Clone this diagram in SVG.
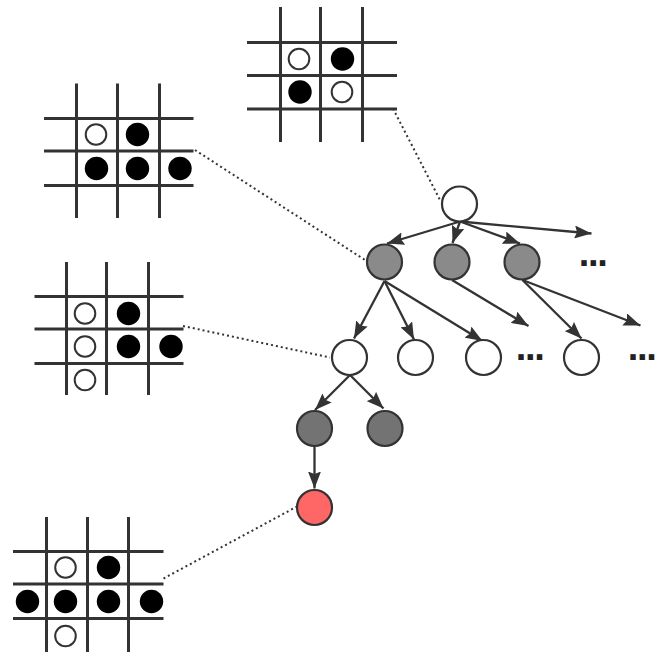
<svg xmlns="http://www.w3.org/2000/svg" width="672" height="656" viewBox="0 0 672 656">
<style>
.gl{stroke:#333;stroke-width:3;fill:none}
.w{fill:#fff;stroke:#333;stroke-width:2}
.b{fill:#000}
.n{stroke:#333;stroke-width:2.2}
.nw{fill:#fff}
.ng{fill:#8a8a8a}
.nd{fill:#737373}
.nr{fill:#ff6666}
.e{stroke:#333;stroke-width:2.3;fill:none;marker-end:url(#ah)}
.d{stroke:#333;stroke-width:2;fill:none;stroke-dasharray:2 3}
.t{font-family:"Liberation Sans",Arial,sans-serif;font-weight:bold;font-size:38px;letter-spacing:-1.3px;fill:#222;text-anchor:middle}
</style>
<defs>
<marker id="ah" viewBox="0 0 17 13" refX="17" refY="6.5" markerWidth="17" markerHeight="13" markerUnits="userSpaceOnUse" orient="auto">
<path d="M0,0 L17,6.5 L0,13 L2.5,6.5 z" fill="#333"/>
</marker>
</defs>
<rect width="672" height="656" fill="#fff"/>

<g id="connectors">
<path class="d" d="M393,108.5 L440,200"/>
<path class="d" d="M195,150 L365,260"/>
<path class="d" d="M183,326 L330,357.5"/>
<path class="d" d="M163.5,578.5 L297,506.5"/>
<path class="e" d="M460,221.5 L387,243.5"/>
<path class="e" d="M460,221.5 L452.5,243"/>
<path class="e" d="M460,221.5 L520,243.5"/>
<path class="e" d="M460,221.5 L591.5,233.5"/>
<path class="e" d="M384.5,281 L354,338.5"/>
<path class="e" d="M384.5,281 L414,339.5"/>
<path class="e" d="M384.5,281 L482.5,341"/>
<path class="e" d="M452,280 L528.5,326"/>
<path class="e" d="M522.5,280 L581.5,338.5"/>
<path class="e" d="M522.5,280 L640.5,325.5"/>
<path class="e" d="M350,375 L315,410"/>
<path class="e" d="M350,375 L383.5,408.5"/>
<path class="e" d="M314.5,446 L314.5,488.5"/>
</g>

<g id="grid-top">
<path class="gl" d="M280.5,7 V142 M320.5,7 V142 M362.5,7 V142 M247,42.5 H397 M247,75.5 H397 M247,109 H397"/>
<circle class="w" cx="299" cy="59" r="10.3"/>
<circle class="b" cx="342.5" cy="59" r="11.7"/>
<circle class="b" cx="300" cy="92" r="11.7"/>
<circle class="w" cx="342" cy="92" r="10.3"/>
</g>

<g id="grid-1">
<path class="gl" d="M76.5,83.5 V218 M117.5,83.5 V218 M159.5,83.5 V218 M44,118.5 H193.5 M44,151 H193.5 M44,185.5 H193.5"/>
<circle class="w" cx="96" cy="134.5" r="10.3"/>
<circle class="b" cx="137.5" cy="134.5" r="11.7"/>
<circle class="b" cx="96.5" cy="168.5" r="11.7"/>
<circle class="b" cx="137.5" cy="168.5" r="11.7"/>
<circle class="b" cx="180" cy="168.5" r="11.7"/>
</g>

<g id="grid-2">
<path class="gl" d="M66.5,262 V395 M106.5,262 V395 M148.5,262 V395 M34.5,296.5 H183.5 M34.5,329 H183.5 M34.5,363.5 H183.5"/>
<circle class="w" cx="85" cy="313.5" r="10.3"/>
<circle class="b" cx="128.5" cy="313.5" r="11.7"/>
<circle class="w" cx="85" cy="346.5" r="10.3"/>
<circle class="b" cx="128.5" cy="346.5" r="11.7"/>
<circle class="b" cx="171" cy="346.5" r="11.7"/>
<circle class="w" cx="85" cy="380" r="10.3"/>
</g>

<g id="grid-bottom">
<path class="gl" d="M46.5,517 V652 M87.5,517 V652 M128.5,517 V652 M13,551.5 H163.5 M13,584 H163.5 M13,618.5 H163.5"/>
<circle class="w" cx="65.5" cy="567.5" r="10.3"/>
<circle class="b" cx="108.5" cy="567.5" r="11.7"/>
<circle class="b" cx="27.5" cy="601.5" r="11.7"/>
<circle class="b" cx="65.5" cy="601.5" r="11.7"/>
<circle class="b" cx="108.5" cy="601.5" r="11.7"/>
<circle class="b" cx="151.5" cy="601.5" r="11.7"/>
<circle class="w" cx="65.5" cy="636" r="10.3"/>
</g>

<g id="root"><circle class="n nw" cx="459.5" cy="204" r="17.5"/></g>
<g id="g1"><circle class="n ng" cx="384.5" cy="262" r="17.5"/></g>
<g id="g2"><circle class="n ng" cx="452" cy="262" r="17.5"/></g>
<g id="g3"><circle class="n ng" cx="522" cy="262" r="17.5"/></g>
<g id="w1"><circle class="n nw" cx="349.5" cy="357.5" r="17.5"/></g>
<g id="w2"><circle class="n nw" cx="415.5" cy="357.5" r="17.5"/></g>
<g id="w3"><circle class="n nw" cx="483.5" cy="357.5" r="17.5"/></g>
<g id="w4"><circle class="n nw" cx="581.5" cy="357.5" r="17.5"/></g>
<g id="d1"><circle class="n nd" cx="314.5" cy="428.5" r="17.5"/></g>
<g id="d2"><circle class="n nd" cx="385" cy="428.5" r="17.5"/></g>
<g id="red"><circle class="n nr" cx="314.5" cy="507.5" r="17.5"/></g>

<g id="more-1"><text class="t" x="592.7" y="266">...</text></g>
<g id="more-2"><text class="t" x="529.7" y="359.5">...</text></g>
<g id="more-3"><text class="t" x="641.7" y="359.5">...</text></g>
</svg>
